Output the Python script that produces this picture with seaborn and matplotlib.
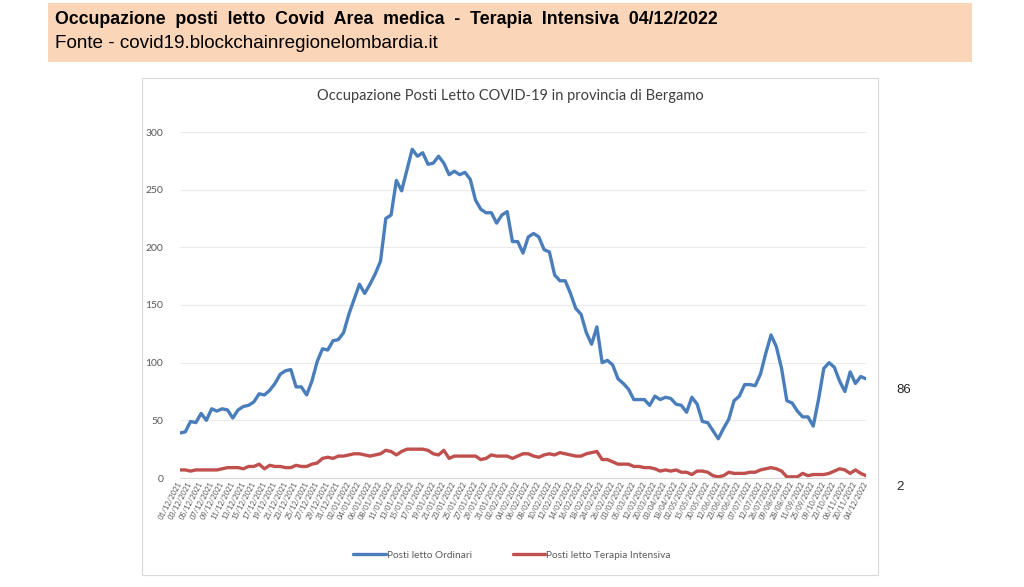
import numpy as np
import pandas as pd
import matplotlib.pyplot as plt
import seaborn as sns
from matplotlib.patches import Rectangle

# etichette asse x (una ogni due punti)
tick_labels = [
    "01/12/2021", "03/12/2021", "05/12/2021", "07/12/2021", "09/12/2021",
    "11/12/2021", "13/12/2021", "15/12/2021", "17/12/2021", "19/12/2021",
    "21/12/2021", "23/12/2021", "25/12/2021", "27/12/2021", "29/12/2021",
    "31/12/2021", "02/01/2022", "04/01/2022", "06/01/2022", "08/01/2022",
    "11/01/2022", "13/01/2022", "15/01/2022", "17/01/2022", "19/01/2022",
    "21/01/2022", "23/01/2022", "25/01/2022", "27/01/2022", "29/01/2022",
    "31/01/2022", "02/02/2022", "04/02/2022", "06/02/2022", "08/02/2022",
    "10/02/2022", "12/02/2022", "14/02/2022", "16/02/2022", "18/02/2022",
    "24/02/2022", "26/02/2022", "03/03/2022", "05/03/2022", "12/03/2022",
    "20/03/2022", "03/04/2022", "18/04/2022", "02/05/2022", "15/05/2022",
    "30/05/2022", "12/06/2022", "23/06/2022", "30/06/2022", "07/07/2022",
    "12/07/2022", "26/07/2022", "09/08/2022", "28/08/2022", "11/09/2022",
    "25/09/2022", "09/10/2022", "23/10/2022", "06/11/2022", "20/11/2022",
    "04/12/2022",
]

ordinari = [
    39, 40, 49, 48, 56, 50, 60, 58, 60, 59, 52, 59, 62, 63, 66, 73, 72, 76,
    82, 90, 93, 94, 79, 79, 72, 84, 101, 112, 111, 119, 120, 126, 142, 155,
    168, 160, 168, 177, 188, 225, 228, 258, 249, 267, 285, 279, 282, 272, 273,
    279, 273, 263, 266, 263, 265, 259, 241, 233, 230, 230, 221, 228, 231,
    205, 205, 195, 209, 212, 209, 198, 196, 176, 171, 171, 160, 147, 142, 126,
    116, 131, 100, 102, 98, 86, 82, 77, 68, 68, 68, 63, 71, 68, 70, 69, 64,
    63, 57, 70, 64, 49, 48, 41, 34, 43, 51, 67, 71, 81, 81, 80, 90, 108, 124,
    114, 95, 67, 65, 58, 53, 53, 45, 68, 95, 100, 96, 84, 75, 92, 82, 88, 86,
]

intensiva = [
    7, 7, 6, 7, 7, 7, 7, 7, 8, 9, 9, 9, 8, 10, 10, 12, 8, 11, 10, 10, 9, 9,
    11, 10, 10, 12, 13, 17, 18, 17, 19, 19, 20, 21, 21, 20, 19, 20, 21, 24,
    23, 20, 23, 25, 25, 25, 25, 24, 21, 20, 24, 17, 19, 19, 19, 19, 19, 16,
    17, 20, 19, 19, 19,
    17, 19, 21, 21, 19, 18, 20, 21, 20, 22, 21, 20, 19, 19, 21, 22, 23, 16,
    16, 14, 12, 12, 12, 10, 10, 9, 9, 8, 6, 7, 6, 7, 5, 5, 3, 6, 6, 5, 2, 1,
    2, 5, 4, 4, 4, 5, 5, 7, 8, 9, 8, 6, 1, 1, 1, 4, 2, 3, 3, 3, 4, 6, 8, 7,
    4, 7, 4, 2,
]

serie = ["Posti letto Ordinari", "Posti letto Terapia Intensiva"]
colori = ["#4A7EBB", "#C0504D"]

n = len(ordinari)
df = pd.DataFrame({
    "idx": list(range(n)) * 2,
    "valore": ordinari + intensiva,
    "serie": [serie[0]] * n + [serie[1]] * n,
})

sns.set_style("white")
plt.rcParams["font.family"] = ["Lato", "DejaVu Sans"]

fig = plt.figure(figsize=(10.24, 5.87), dpi=100)
W, H = 1024, 587

# banda intestazione
fig.patches.append(Rectangle((48 / W, 1 - 62 / H), 924 / W, 59 / H,
                             transform=fig.transFigure, facecolor="#FBD5B7",
                             edgecolor="none", zorder=0))
fig.text(55 / W, 1 - 20 / H,
         "Occupazione  posti  letto  Covid  Area  medica  -  Terapia  Intensiva  04/12/2022",
         fontsize=12.75, fontweight="bold", family="Liberation Sans",
         va="center", ha="left", color="black")
fig.text(55 / W, 1 - 44 / H, "Fonte - covid19.blockchainregionelombardia.it",
         fontsize=13.6, family="Liberation Sans", va="center", ha="left",
         color="black")

# riquadro grafico
fig.patches.append(Rectangle((142 / W, 1 - 575 / H), 736 / W, 497 / H,
                             transform=fig.transFigure, facecolor="white",
                             edgecolor="#D9D9D9", lw=0.8, zorder=0))
fig.text(510 / W, 1 - 96 / H,
         "Occupazione Posti Letto COVID-19 in provincia di Bergamo",
         fontsize=10.5, color="#404040", ha="center", va="center")

ax = fig.add_axes([180 / W, 1 - 478 / H, 686 / W, 346 / H])
ax.set_zorder(2)
ax.patch.set_alpha(0)
sns.lineplot(data=df, x="idx", y="valore", hue="serie", palette=colori,
             linewidth=2.4, ax=ax)

handles, labels = ax.get_legend_handles_labels()
ax.get_legend().remove()
fig.legend(handles, labels, loc="center", bbox_to_anchor=(512 / W, 1 - 555 / H),
           ncol=2, frameon=False, fontsize=7.3, handlelength=3.2,
           handletextpad=0.1, columnspacing=4, labelcolor="#595959")

ax.set_xlim(0, n - 1)
ax.set_ylim(0, 300)
ax.set_yticks(range(0, 301, 50))
ax.yaxis.grid(True, color="#EBEBEB", lw=0.8)
ax.set_xticks(range(0, n, 2))
ax.set_xticklabels(tick_labels, rotation=62, fontsize=5.4, color="#595959",
                   ha="right", va="center", rotation_mode="anchor")
ax.tick_params(axis="y", labelsize=7.5, labelcolor="#595959", pad=12, length=0)
ax.tick_params(axis="x", length=0, pad=3)
ax.set_xlabel("")
ax.set_ylabel("")
for s in ["top", "right", "left"]:
    ax.spines[s].set_visible(False)
ax.spines["bottom"].set_color("#D9D9D9")

# valori finali
for vals in (ordinari, intensiva):
    ax.annotate(str(vals[-1]), xy=(n - 1, vals[-1]), xytext=(30, -11),
                textcoords="offset pixels", fontsize=9.5,
                family="Liberation Sans", va="center", ha="left",
                annotation_clip=False)

fig.savefig("out.png", dpi=100)
